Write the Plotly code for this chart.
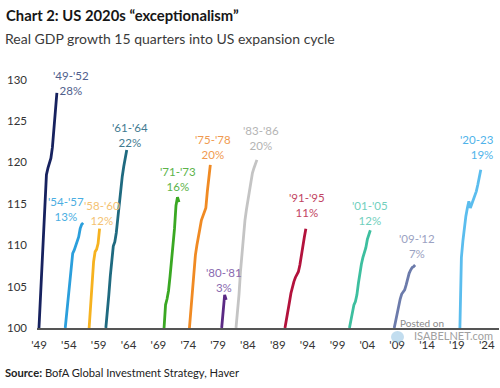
import plotly.graph_objects as go

# ---- data ----
series_names = ["'49-'52", "'54-'57", "'58-'60", "'61-'64", "'71-'73", "'75-'78",
                "'80-'81", "'83-'86", "'91-'95", "'01-'05", "'09-'12", "'20-23"]
pct_labels = ["28%", "13%", "12%", "22%", "16%", "20%", "3%", "20%", "11%", "12%", "7%", "19%"]
start_years = [1949.0, 1953.4, 1957.4, 1960.2, 1969.95, 1974.2,
               1979.6, 1982.0, 1990.2, 2001.0, 2008.5, 2019.5]

s49 = [100, 104, 108, 111.5, 115, 118.5, 119.3, 119.8, 120.5, 121.8, 123.8, 126.2, 128.4]
s54 = [100, 101.8, 103.5, 105.3, 107.2, 109.0, 109.4, 110.0, 110.3, 111.0, 112.0, 112.5, 112.7]
s58 = [100, 102.5, 105.5, 108, 109.2, 109.5, 110.2, 112.0]
s61 = [100, 101.7, 104, 106.3, 108.3, 109.9, 110.4, 111.5, 113.2, 115, 116.8, 118.3, 119.5, 120.6, 121.5]
s71 = [100, 102.8, 103.5, 104.5, 106.2, 108, 110, 112, 114.8, 115.8, 115.2]
s75 = [100, 102.2, 104.8, 107, 108.8, 110, 110.8, 112, 113, 113.6, 113.9, 114.5, 116.5, 118.2, 119.7]
s80 = [100, 102.2, 104.0, 103.4]
s83 = [100, 101.8, 104, 106.8, 109, 111.3, 113, 114.3, 115.5, 116.7, 117.7, 118.7, 119.3, 119.9, 120.3]
s91 = [100, 100.9, 102.2, 103.1, 104.2, 105.0, 105.6, 106.1, 106.4, 106.8, 107.6, 108.9, 109.9, 111.0, 112.0]
s01 = [100, 101.0, 102.0, 102.8, 103.2, 104.0, 105.4, 106.7, 107.7, 108.5, 109.0, 109.7, 110.7, 111.3, 111.8]
s09 = [100, 101, 102, 102.8, 103.5, 104.1, 104.4, 104.6, 105.2, 106.0, 106.6, 107.0, 107.3, 107.4, 107.6]
s20 = [100, 108.5, 110.5, 112.5, 113.5, 114.5, 115.3, 114.5, 115.0, 115.4, 115.8, 116.5, 117.3, 118.2, 119.1]
all_series = [s49, s54, s58, s61, s71, s75, s80, s83, s91, s01, s09, s20]

y_ticks = [100, 105, 110, 115, 120, 125, 130]
x_ticks = [1949, 1954, 1959, 1964, 1969, 1974, 1979, 1984, 1989, 1994, 1999, 2004, 2009, 2014, 2019, 2024]
x_ticktext = ["'49", "'54", "'59", "'64", "'69", "'74", "'79", "'84", "'89", "'94", "'99", "'04", "'09", "'14", "'19", "'24"]

# ---- styles ----
line_colors = ["#17225f", "#2b9fdc", "#f6b21f", "#1f6a80", "#3aa823", "#f08a23",
               "#5b2a84", "#c4c4c4", "#b3123c", "#3dbf9f", "#6c7bab", "#5bbdee"]
label_colors = ["#50608c", "#4aaee2", "#f4c272", "#3f7a90", "#5cb34a", "#f09a50",
                "#8a6ab0", "#b4b4b4", "#c24562", "#72cfbd", "#9ba2c2", "#4fb3ea"]
label_pos = [(1954.44, 129.64), (1953.57, 114.40), (1959.60, 113.83), (1964.29, 123.31),
             (1972.33, 117.95), (1978.15, 121.81), (1979.99, 105.84), (1986.19, 122.89),
             (1993.89, 114.88), (2004.49, 113.92), (2012.27, 109.90), (2025.55, 121.81)]

FONT = "Lato, 'Open Sans', sans-serif"

fig = go.Figure()
for name, start, vals, col in zip(series_names, start_years, all_series, line_colors):
    xs = [start + 0.25 * i for i in range(len(vals))]
    fig.add_trace(go.Scatter(x=xs, y=vals, mode="lines", name=name,
                             line=dict(color=col, width=2.8), showlegend=False,
                             hoverinfo="skip"))

annotations = []
for i, (name, pct, col, (lx, ly)) in enumerate(zip(series_names, pct_labels, label_colors, label_pos)):
    right = (i == len(series_names) - 1)
    annotations.append(dict(x=lx, y=ly, xref="x", yref="y",
                            text=f"{name}<br>{pct}", showarrow=False,
                            xanchor="right" if right else "center", yanchor="middle",
                            align="right" if right else "center",
                            font=dict(family=FONT, size=11.5, color=col)))

W, H = 500, 388
ML, MR, MT, MB = 37, 1, 63, 60
PW, PH = W - ML - MR, H - MT - MB

def px(xp):
    return (xp - ML) / PW

def py(yp):
    return (H - MB - yp) / PH

annotations += [
    dict(x=px(4), y=py(15.5), xref="paper", yref="paper", xanchor="left", yanchor="middle",
         text="<b>Chart 2: US 2020s “exceptionalism”</b>", showarrow=False,
         font=dict(family=FONT, size=14.8, color="#161616")),
    dict(x=px(3), y=py(38.5), xref="paper", yref="paper", xanchor="left", yanchor="middle",
         text="Real GDP growth 15 quarters into US expansion cycle", showarrow=False,
         font=dict(family=FONT, size=14, color="#3a3a3a")),
    dict(x=px(3), y=py(372), xref="paper", yref="paper", xanchor="left", yanchor="middle",
         text="<b>Source:</b> BofA Global Investment Strategy, Haver", showarrow=False,
         font=dict(family=FONT, size=11.2, color="#222222")),
    dict(x=px(398), y=py(322.5), xref="paper", yref="paper", xanchor="left", yanchor="middle",
         text="Posted on", showarrow=False,
         font=dict(family=FONT, size=10, color="#8a8a8a")),
    dict(x=px(412), y=py(335.5), xref="paper", yref="paper", xanchor="left", yanchor="middle",
         text="ISABELNET.com", showarrow=False,
         font=dict(family=FONT, size=11, color="#a0a0a0")),
]

fig.update_layout(
    template="none",
    width=W, height=H, autosize=False,
    margin=dict(l=ML, r=MR, t=MT, b=MB, pad=0),
    paper_bgcolor="white", plot_bgcolor="white",
    font=dict(family=FONT, size=11.5, color="#333333"),
    annotations=annotations,
    shapes=[dict(type="circle", xref="paper", yref="paper",
                 x0=px(391), x1=px(404), y0=py(343), y1=py(331),
                 fillcolor="rgba(120,180,220,0.45)", line=dict(width=0), layer="above")],
    xaxis=dict(range=[1948.67, 2026.05], tickvals=x_ticks, ticktext=x_ticktext,
               showgrid=False, zeroline=False, showline=True, linecolor="#555555",
               linewidth=1.5, ticks="", ticklabelstandoff=5, automargin=False,
               tickfont=dict(family=FONT, size=11.5, color="#333333")),
    yaxis=dict(range=[100, 132], tickvals=y_ticks, showgrid=False, zeroline=False,
               showline=False, ticks="", ticklabelstandoff=9, automargin=False,
               tickfont=dict(family=FONT, size=11.5, color="#333333")),
)

fig.write_html("out.html", config={"displayModeBar": False},
               post_script="document.body.style.margin='0px';document.body.style.overflow='hidden';")
